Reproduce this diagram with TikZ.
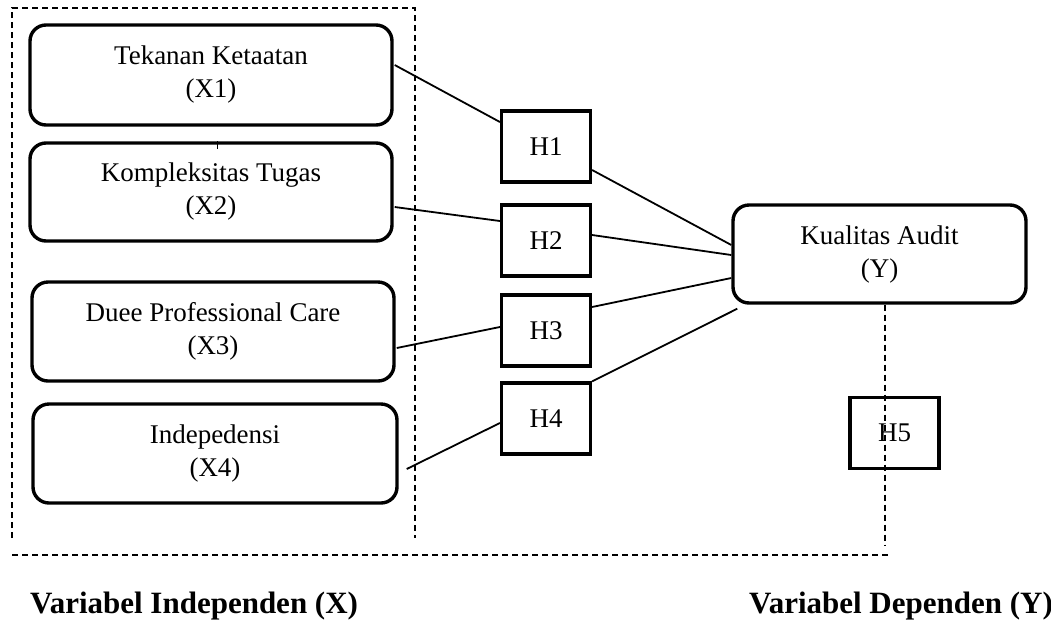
\documentclass[tikz,border=0pt]{standalone}
\usepackage{fontspec}
\setmainfont{Liberation Serif}
\begin{document}
\begin{tikzpicture}[x=1pt,y=-1pt,
  varbox/.style={draw,line width=3.4pt,rounded corners=16pt,align=center,inner sep=0pt,
    font=\fontsize{27}{33}\selectfont},
  hbox/.style={draw,line width=3.2pt,inner sep=0pt,minimum width=89pt,minimum height=71pt,
    font=\fontsize{27}{32}\selectfont},
  link/.style={line width=1.8pt},
  frame/.style={line width=1.4pt,dash pattern=on 6pt off 4pt},
  caption/.style={font=\fontsize{31}{36}\selectfont\bfseries,inner sep=0pt,anchor=base west}]
\useasboundingbox (0,0) rectangle (1051,622);
\fill[white] (0,0) rectangle (1051,622);

% dashed frames
\draw[frame] (12,538) -- (12,8) -- (415,8) -- (415,538);

% variable boxes
\node[varbox,minimum width=362pt,minimum height=100pt] (x1) at (211,75) {Tekanan Ketaatan\\(X1)};
\node[varbox,minimum width=362pt,minimum height=98pt] (x2) at (211,192) {Kompleksitas Tugas\\(X2)};
\node[varbox,minimum width=362pt,minimum height=99pt] (x3) at (213,331.5) {Duee Professional Care\\(X3)};
\node[varbox,minimum width=364pt,minimum height=99pt] (x4) at (215,453.5) {Indepedensi\\(X4)};
\node[varbox,minimum width=293pt,minimum height=98pt] (y) at (879.5,254) {Kualitas Audit\\(Y)};

% hypothesis boxes
\node[hbox] (h1) at (546,146.5) {H1};
\node[hbox] (h2) at (546,240.5) {H2};
\node[hbox] (h3) at (546,330.5) {H3};
\node[hbox] (h4) at (546,418.5) {H4};
\node[hbox] (h5) at (894.5,433) {H5};

% small tick
\draw[line width=1pt] ([xshift=6pt]x2.north) -- ++(0,8);

% connectors
\draw[link] ([xshift=1pt,yshift=10pt]x1.east) -- ([yshift=24.5pt]h1.west);
\draw[link] ([yshift=-23.5pt]h1.east) -- ([yshift=9pt]y.west);
\draw[link] ([xshift=1pt,yshift=-15pt]x2.east) -- ([yshift=19.5pt]h2.west);
\draw[link] ([yshift=5.5pt]h2.east) -- ([yshift=-1pt]y.west);
\draw[link] ([xshift=1pt,yshift=-16.5pt]x3.east) -- ([yshift=3.5pt]h3.west);
\draw[link] ([yshift=23.5pt]h3.east) -- ([yshift=-24pt]y.west);
\draw[link] ([xshift=8pt,yshift=-15.5pt]x4.east) -- ([yshift=-4.5pt]h4.west);
\draw[link] (h4.north east) -- ([xshift=6pt,yshift=-4pt]y.south west);

% dashed link from Y down and along the bottom
\coordinate (ydown) at (885,545);
\coordinate (br) at (888,555);
\coordinate (bl) at (12,555);
\draw[frame] ([xshift=5.5pt]y.south) -- (ydown);
\draw[frame] (br) -- (bl);

% captions
\node[caption] (capx) at (30,613) {Variabel Independen (X)};
\node[caption] (capy) at (749,613) {Variabel Dependen (Y)};
\end{tikzpicture}
\end{document}
